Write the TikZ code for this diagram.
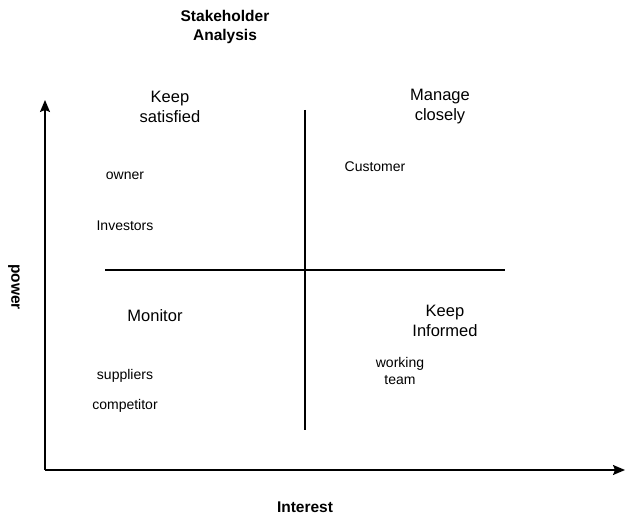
\documentclass[tikz,border=0pt]{standalone}
\usepackage{fontspec}
\setmainfont{Liberation Sans}
\usetikzlibrary{arrows.meta}

\begin{document}
\begin{tikzpicture}[x=1pt, y=-1pt, line width=1.4pt,
    small/.style={font=\fontsize{14}{17}\selectfont, align=center, inner sep=0pt},
    quad/.style={font=\fontsize{16.5}{20}\selectfont, align=center, inner sep=0pt},
    axislabel/.style={font=\fontsize{15.5}{19}\selectfont\bfseries, align=center, inner sep=0pt}]

   \useasboundingbox (0,0) rectangle (635,521);

   \coordinate (origin) at (45,470);
   \coordinate (ytop) at (45,100);
   \coordinate (xend) at (625,470);
   \coordinate (vtop) at (305,110);
   \coordinate (vbot) at (305,430);
   \coordinate (hleft) at (105,270);
   \coordinate (hright) at (505,270);

   \draw[-{Stealth[length=12pt,width=10pt,inset=2pt]}] (origin) -- (ytop);
   \draw[-{Stealth[length=12pt,width=10pt,inset=2pt]}] (origin) -- (xend);
   \draw (vtop) -- (vbot);
   \draw (hleft) -- (hright);

   \node[axislabel] (title) at (225,27) {Stakeholder\\Analysis};
   \node[axislabel] (interest) at (305,507) {Interest};
   \node[axislabel, rotate=-90] (power) at (14,287) {power};

   \foreach \x/\y/\n/\t in {170/107/ks/Keep\\satisfied, 440/107/mc/Manage\\closely,
                            155/316/mo/Monitor, 445/321/ki/Keep\\Informed}
     \node [quad] (\n) at (\x,\y) {\t};

   \foreach \x/\y/\n/\t in {125/176/ow/owner, 125/226/inv/Investors, 375/167/cu/Customer,
                            400/371/wt/working\\team, 125/376/su/suppliers, 125/406/co/competitor}
     \node [small] (\n) at (\x,\y) {\t};

\end{tikzpicture}
\end{document}
